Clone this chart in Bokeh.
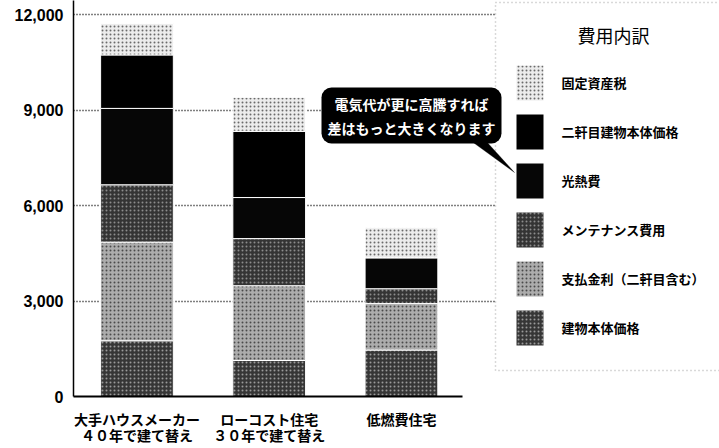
from bokeh.plotting import figure
from bokeh.models import (Range1d, FixedTicker, NumeralTickFormatter, Legend, LegendItem,
                          Label, BoxAnnotation, PolyAnnotation, ColumnDataSource)
from bokeh.embed import file_html
from bokeh.resources import INLINE

# ---- data ----
categories = ["大手ハウスメーカー\n４０年で建て替え", "ローコスト住宅\n３０年で建て替え", "低燃費住宅"]
series_names = ["建物本体価格", "支払金利（二軒目含む）", "メンテナンス費用",
                "光熱費", "二軒目建物本体価格", "固定資産税"]
building = [1750, 1130, 1460]
interest = [3100, 2350, 1460]
maintenance = [1800, 1480, 465]
utility = [2400, 1290, 975]
second_house = [1680, 2080, 0]
property_tax = [985, 1070, 940]
y_ticks = [0, 3000, 6000, 9000, 12000]
legend_title = "費用内訳"
callout_text = "電気代が更に高騰すれば\n差はもっと大きくなります"

keys = ["building", "interest", "maintenance", "utility", "second_house", "property_tax"]
xpos = list(range(len(categories)))
src = ColumnDataSource(dict(x=xpos, building=building, interest=interest,
                            maintenance=maintenance, utility=utility,
                            second_house=second_house, property_tax=property_tax))

JP = "Noto Sans CJK JP"

p = figure(frame_width=646, frame_height=396,
           x_range=Range1d(-0.48, 4.405), y_range=Range1d(0, 12440),
           min_border_left=73, min_border_right=0, min_border_top=0, min_border_bottom=52,
           output_backend="svg", toolbar_location=None)
p.outline_line_color = None
p.background_fill_color = "white"

fills = ["#363636", "#acacac", "#343434", "#060606", "#000000", "#ececec"]
hatches = [".", ".", ".", " ", " ", "."]
hcolors = ["#9a9a9a", "#4a4a4a", "#8c8c8c", "#000000", "#000000", "#6a6a6a"]

rs = p.vbar_stack(keys, x="x", width=0.55, source=src, fill_color=fills,
                  line_color="white", line_width=1,
                  hatch_pattern=hatches, hatch_color=hcolors, hatch_scale=4, hatch_weight=1)

# axes
p.yaxis.ticker = FixedTicker(ticks=y_ticks)
p.yaxis.formatter = NumeralTickFormatter(format="0,0")
p.yaxis.major_label_text_font = "Liberation Sans"
p.yaxis.major_label_text_font_style = "bold"
p.yaxis.major_label_text_font_size = "16px"
p.yaxis.major_label_text_color = "black"
p.yaxis.major_tick_line_color = None
p.yaxis.minor_tick_line_color = None
p.yaxis.major_tick_out = 0
p.yaxis.major_tick_in = 0
p.yaxis.minor_tick_out = 0
p.yaxis.axis_line_width = 1.5
p.yaxis.axis_line_color = "black"
p.yaxis.major_label_standoff = 10

p.xaxis.ticker = FixedTicker(ticks=xpos)
p.xaxis.major_label_overrides = {i: c for i, c in zip(xpos, categories)}
p.xaxis.major_label_text_font = JP
p.xaxis.major_label_text_font_style = "bold"
p.xaxis.major_label_text_font_size = "14px"
p.xaxis.major_label_text_line_height = 0.8
p.xaxis.major_label_text_color = "black"
p.xaxis.major_tick_line_color = None
p.xaxis.minor_tick_line_color = None
p.xaxis.major_tick_out = 0
p.xaxis.major_tick_in = 0
p.xaxis.minor_tick_out = 0
p.xaxis.axis_line_width = 2
p.xaxis.axis_line_color = "black"
p.xaxis.bounds = (-0.48, 2.461)
p.xaxis.major_label_standoff = 12

p.xgrid.visible = False
p.ygrid.ticker = FixedTicker(ticks=y_ticks[1:])
p.ygrid.grid_line_color = "black"
p.ygrid.grid_line_dash = "1 2"
p.ygrid.grid_line_width = 1.5

# legend box
box = BoxAnnotation(left=422, right=700, bottom=26, top=394,
                    left_units="screen", right_units="screen",
                    bottom_units="screen", top_units="screen",
                    fill_color="white", fill_alpha=1, line_color="black",
                    line_dash="1 3", line_width=1.5)
p.add_layout(box)

p.add_layout(Label(x=540, y=362, x_units="screen", y_units="screen", text=legend_title,
                   text_align="center", text_baseline="middle", text_font=JP,
                   text_font_size="18px", text_color="black"))

items = [LegendItem(label=series_names[i], renderers=[rs[i]]) for i in reversed(range(len(keys)))]
legend = Legend(items=items, location=(438.5, 46.5), orientation="vertical",
                glyph_width=35, glyph_height=45, spacing=4, padding=0, margin=0,
                label_standoff=15, label_text_font=JP, label_text_font_style="bold",
                label_text_font_size="13px", label_text_color="black",
                border_line_color=None, background_fill_alpha=0)
p.add_layout(legend)

# callout
p.add_layout(PolyAnnotation(xs=[397, 412, 441], ys=[256, 256, 224],
                            xs_units="screen", ys_units="screen",
                            fill_color="black", fill_alpha=1, line_color="black", line_width=1))
p.add_layout(Label(x=338, y=281, x_units="screen", y_units="screen", text=callout_text,
                   text_align="center", text_baseline="middle", text_color="white",
                   text_font=JP, text_font_style="bold", text_font_size="14px",
                   text_line_height=1.2,
                   background_fill_color="black", background_fill_alpha=1,
                   border_radius=10, padding=6))

open("out.html", "w").write(file_html(p, INLINE))
